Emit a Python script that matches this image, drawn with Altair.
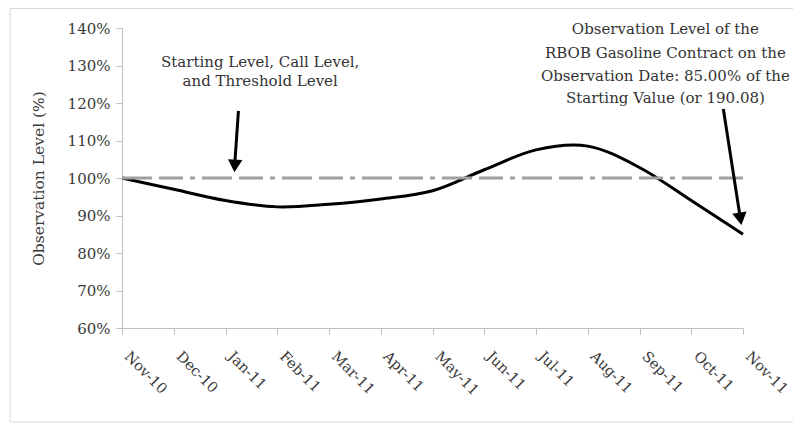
import json
import altair as alt
import pandas as pd

# ---- data ----
months = ["Nov-10", "Dec-10", "Jan-11", "Feb-11", "Mar-11", "Apr-11", "May-11",
          "Jun-11", "Jul-11", "Aug-11", "Sep-11", "Oct-11", "Nov-11"]
level = [100.0, 97.0, 94.0, 92.3, 93.0, 94.4, 96.6, 102.2, 107.5, 108.5, 102.8, 94.0, 85.0]
threshold = 100.0
y_ticks = [60, 70, 80, 90, 100, 110, 120, 130, 140]

note1_lines = ["Starting Level, Call Level,", "and Threshold Level"]
note1_x = [2.67, 2.67]
note1_y = [130.9, 126.0]

note2_lines = ["Observation Level of the", "RBOB Gasoline Contract on the",
               "Observation Date: 85.00% of the", "Starting Value (or 190.08)"]
note2_x = [10.5, 10.5, 10.5, 10.5]
note2_y = [139.7, 133.4, 127.3, 121.4]

# arrows: shaft start / end and head position (in month index / % units)
arrow1_shaft = {"i": [2.25], "level": [117.9], "i2": [2.18], "level2": [104.0]}
arrow1_head = {"i": [2.18], "level": [103.2]}
arrow2_shaft = {"i": [11.62], "level": [118.4], "i2": [11.94], "level2": [90.0]}
arrow2_head = {"i": [11.95], "level": [89.1]}

idx = list(range(len(months)))
df = pd.DataFrame({"i": idx, "month": months, "level": level})

FONT = "DejaVu Serif"
FS = 15
AX = "#bfbfbf"
LBL = "#3a3a3a"

x_scale = alt.Scale(domain=[0, len(months) - 1], nice=False)
y_scale = alt.Scale(domain=[min(y_ticks), max(y_ticks)], nice=False)

x_axis = alt.Axis(values=idx, labelExpr=f"{json.dumps(months)}[datum.value]", title=None,
                  grid=False, domainColor=AX, tickColor=AX, tickSize=6, labelAngle=45,
                  labelAlign="left", labelBaseline="top", labelOffset=9, labelPadding=15,
                  labelFont=FONT, labelFontSize=14.5, labelColor=LBL, labelOverlap=False,
                  labelFlush=False, labelBound=False, tickCount=len(months))
y_axis = alt.Axis(values=y_ticks, labelExpr="datum.value + '%'", title="Observation Level (%)",
                  grid=False, domainColor=AX, tickColor=AX, tickSize=6, labelPadding=6,
                  labelFont=FONT, labelFontSize=FS, labelColor=LBL, titleFont=FONT,
                  titleFontSize=15.5, titleFontWeight="normal", titleColor=LBL,
                  titleX=-84, titleY=150, titleAngle=270, titleAlign="center",
                  titleBaseline="middle", labelFlush=False, labelOverlap=False,
                  labelBound=False, tickCount=len(y_ticks))

X = alt.X("i:Q", scale=x_scale, axis=x_axis)
Y = alt.Y("level:Q", scale=y_scale, axis=y_axis)

frame = alt.Chart(pd.DataFrame({"a": [0]})).mark_rect(
    fillOpacity=0, stroke="#d9d9d9", strokeWidth=1
).encode(x=alt.value(-112), x2=alt.value(720), y=alt.value(-19.5), y2=alt.value(394))

thr = alt.Chart(pd.DataFrame({"i": [0], "i2": [len(months) - 1], "level": [threshold]})).mark_rule(
    color="#a0a0a0", strokeWidth=3, strokeDash=[30, 7, 24, 7, 5, 7]
).encode(x=X, x2="i2:Q", y=Y)

line = alt.Chart(df).mark_line(color="black", strokeWidth=3, interpolate="cardinal").encode(x=X, y=Y)

def shaft(d):
    return alt.Chart(pd.DataFrame(d)).mark_rule(color="black", strokeWidth=3).encode(
        x=X, x2="i2:Q", y=Y, y2="level2:Q")

def head(d, ang):
    return alt.Chart(pd.DataFrame(d)).mark_point(
        shape="triangle-down", filled=True, size=210, color="black", opacity=1, angle=ang
    ).encode(x=X, y=Y)

def notes(xs, ys, lines):
    return alt.Chart(pd.DataFrame({"i": xs, "level": ys, "txt": lines})).mark_text(
        font=FONT, fontSize=15, color="#333333", align="center", baseline="middle"
    ).encode(x=X, y=Y, text="txt:N")

chart = alt.layer(
    line, thr, frame,
    shaft(arrow1_shaft), head(arrow1_head, 3),
    shaft(arrow2_shaft), head(arrow2_head, 351),
    notes(note1_x, note1_y, note1_lines),
    notes(note2_x, note2_y, note2_lines),
).properties(
    width=621, height=300,
    autosize=alt.AutoSizeParams(type="none"),
    padding={"left": 114, "top": 20, "right": 50, "bottom": 95},
    background="white",
).configure_view(stroke=None)

chart.save("out.html", embed_options={"renderer": "svg", "actions": False})
